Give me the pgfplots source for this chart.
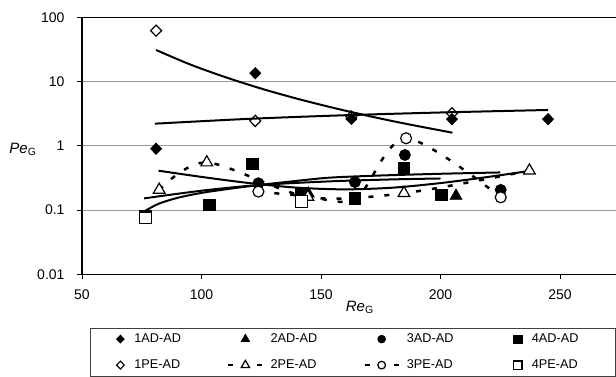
\documentclass[border=0pt]{standalone}
\usepackage{fontspec}
\setmainfont{Liberation Sans}
\usepackage{pgfplots}
\pgfplotsset{compat=1.18}
\pgfplotsset{
  legmark/.style={legend image code/.code={%
    \pgfpathrectangle{\pgfpoint{-10pt}{-3pt}}{\pgfpoint{34pt}{6pt}}\pgfusepath{discard}%
    \draw[mark repeat=2,mark phase=2,##1] plot coordinates {(0pt,0pt) (17pt,0pt) (34pt,0pt)};}},
  legdash/.style={legend image code/.code={%
    \pgfpathrectangle{\pgfpoint{-10pt}{-3pt}}{\pgfpoint{34pt}{6pt}}\pgfusepath{discard}%
    \draw[##1, dash pattern=on 5pt off 24pt] (0pt,0pt) -- (34pt,0pt);
    \draw[##1] plot coordinates {(17pt,0pt)};}},
}
\begin{document}
\begin{tikzpicture}
\useasboundingbox (0pt,0pt) rectangle (616pt,376pt);
\clip (0pt,0pt) rectangle (616pt,376pt);
\begin{axis}[
  at={(82pt,101.7pt)}, anchor=south west,
  scale only axis, width=597.5pt, height=257pt,
  xmin=50, xmax=300, ymode=log, ymin=0.01, ymax=100,
  xtick={50,100,150,200,250},
  xticklabels={50,100,150,200,250},
  ytick={0.01,0.1,1,10,100},
  yticklabels={0.01,0.1,1,10,100},
  yminorticks=false,
  xtick pos=bottom, ytick pos=left,
  tick align=outside, major tick length=5pt,
  tick style={black, line width=0.8pt},
  ticklabel style={font=\fontsize{14}{16}\selectfont},
  xticklabel style={yshift=-7pt},
  yticklabel style={xshift=-9pt},
  ymajorgrids, major grid style={draw=black!40, line width=0.9pt},
  axis line style={black, line width=1.2pt},
  xlabel={\textit{Re}\textsubscript{G}},
  every axis x label/.style={at={(axis description cs:0.465,0)}, anchor=north, yshift=-23pt, font=\fontsize{15}{17}\selectfont},
  ylabel={\textit{Pe}\textsubscript{G}},
  every axis y label/.style={at={(axis description cs:0,0.485)}, anchor=east, xshift=-42pt, font=\fontsize{15}{17}\selectfont},
  legend columns=4,
  legend style={at={(axis description cs:0,0)}, anchor=north west, yshift=-53.4pt, xshift=8pt,
    draw=black!75, line width=0.8pt, inner xsep=3pt, inner ysep=5pt,
    column sep=4pt, row sep=14pt,
    font=\fontsize{12.7}{15}\selectfont,
    nodes={text width=77pt, inner xsep=3pt, inner ysep=0pt, text height=9pt, text depth=3pt, align=left},
    column 8/.style={nodes={text width=110pt}}},
  legend image post style={every mark/.append style={scale=0.7}},
]
% ---- row 1 of legend
\addplot[only marks, mark=diamond*, mark size=5.6pt, mark options={fill=black, draw=black, line width=0.8pt, xscale=1.3}, legmark]
  coordinates {(81,0.9) (122.5,13.5) (162.7,2.62) (204.8,2.6) (245,2.6)};
\addlegendentry{1AD-AD}
\addplot[only marks, mark=triangle*, mark size=6.8pt, mark options={fill=black, draw=black, line width=0.8pt}, legmark]
  coordinates {(144.7,0.18) (206.5,0.166)};
\addlegendentry{2AD-AD}
\addplot[only marks, mark=*, mark size=5.5pt, mark options={fill=black, draw=black, line width=0.8pt}, legmark]
  coordinates {(123.8,0.262) (164.2,0.272) (185.1,0.72) (225.2,0.206)};
\addlegendentry{3AD-AD}
\addplot[only marks, mark=square*, mark size=5.8pt, mark options={fill=black, draw=black, line width=0.8pt}, legmark]
  coordinates {(76.6,0.08) (103.3,0.12) (121.4,0.52) (141.9,0.18) (164.2,0.153) (184.7,0.45) (200.5,0.172)};
\addlegendentry{4AD-AD}
% ---- row 2 of legend
\addplot[only marks, mark=diamond, mark size=5.6pt, mark options={fill=white, draw=black, line width=1.2pt, xscale=1.3}, legmark]
  coordinates {(81,62) (122.5,2.44) (162.7,2.85) (204.8,3.2)};
\addlegendentry{1PE-AD}
\addplot[black, line width=2.5pt, dash pattern=on 5pt off 11pt, smooth, tension=0.5,
  mark=triangle*, mark size=6.8pt, mark options={solid, fill=white, draw=black, line width=1.2pt}, legdash]
  coordinates {(82.3,0.206) (102.2,0.55) (144.5,0.16) (184.7,0.183) (237.2,0.41)};
\addlegendentry{2PE-AD}
\addplot[black, line width=2.5pt, dash pattern=on 5pt off 11pt, smooth, tension=0.5, forget plot]
  coordinates {(123.8,0.194) (144,0.165) (164.5,0.15) (185.6,1.31) (225.2,0.158)};
\addplot[black, line width=2.5pt, dash pattern=on 5pt off 11pt, only marks,
  mark=*, mark size=5.5pt, mark options={solid, fill=white, draw=black, line width=1.2pt}, legdash]
  coordinates {(123.8,0.194) (185.6,1.31) (225.2,0.158)};
\addlegendentry{3PE-AD}
\addplot[only marks, mark=square*, mark size=5.8pt, mark options={fill=white, draw=black, line width=1.2pt}, legmark]
  coordinates {(76.6,0.075) (141.9,0.135)};
\addlegendentry{4PE-AD}
% ---- trend lines
\addplot[forget plot, black, line width=2pt, smooth] coordinates
  {(81,31) (95,18.6) (110,11.7) (125,7.77) (140,5.41) (155,3.91) (170,2.91) (185,2.22) (205,1.60)};
\addplot[forget plot, black, line width=2pt, smooth] coordinates
  {(80.5,2.21) (120,2.63) (160,2.99) (200,3.30) (245,3.61)};
\addplot[forget plot, black, line width=2pt, smooth] coordinates
  {(82,0.41) (100,0.328) (120,0.263) (140,0.223) (160,0.21) (180,0.223) (200,0.263) (220,0.328) (237,0.405)};
\addplot[forget plot, black, line width=2pt, smooth] coordinates
  {(76,0.095) (82,0.125) (90,0.155) (100,0.185) (112,0.215) (124,0.245) (140,0.285) (154,0.32) (175,0.345) (200,0.367) (225,0.385)};
\addplot[forget plot, black, line width=2pt, smooth] coordinates
  {(76,0.152) (100,0.2) (124,0.245) (154,0.28) (180,0.30) (200,0.31)};
\end{axis}
\end{tikzpicture}
\end{document}
